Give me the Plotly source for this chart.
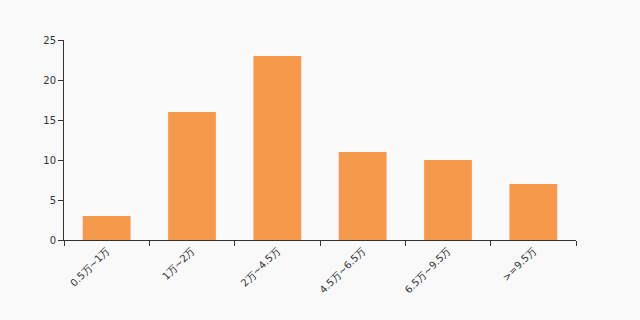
import plotly.graph_objects as go

categories = ["0.5万~1万", "1万~2万", "2万~4.5万", "4.5万~6.5万", "6.5万~9.5万", ">=9.5万"]
values = [3, 16, 23, 11, 10, 7]
y_ticks = [0, 5, 10, 15, 20, 25]

fig = go.Figure(go.Bar(x=categories, y=values, marker=dict(color="#f7994a", line=dict(width=0)), width=0.56))

fig.update_layout(
    width=640, height=320,
    margin=dict(l=64, r=64, t=40, b=80),
    paper_bgcolor="#f9f9f9", plot_bgcolor="#f9f9f9",
    font=dict(family="DejaVu Sans", size=10, color="#333"),
    showlegend=False,
    bargap=0.44,
)
fig.update_xaxes(
    showline=True, linecolor="#333", linewidth=1,
    ticks="outside", ticklen=5, tickcolor="#333", tickson="boundaries",
    tickangle=-45, showgrid=False, zeroline=False,
    tickfont=dict(size=10, color="#333"),
)
fig.update_yaxes(
    range=[0, 25], tickvals=y_ticks,
    showline=True, linecolor="#333", linewidth=1,
    ticks="outside", ticklen=5, tickcolor="#333",
    showgrid=False, zeroline=False,
    tickfont=dict(size=10, color="#333"),
)

fig.write_html("out.html")
